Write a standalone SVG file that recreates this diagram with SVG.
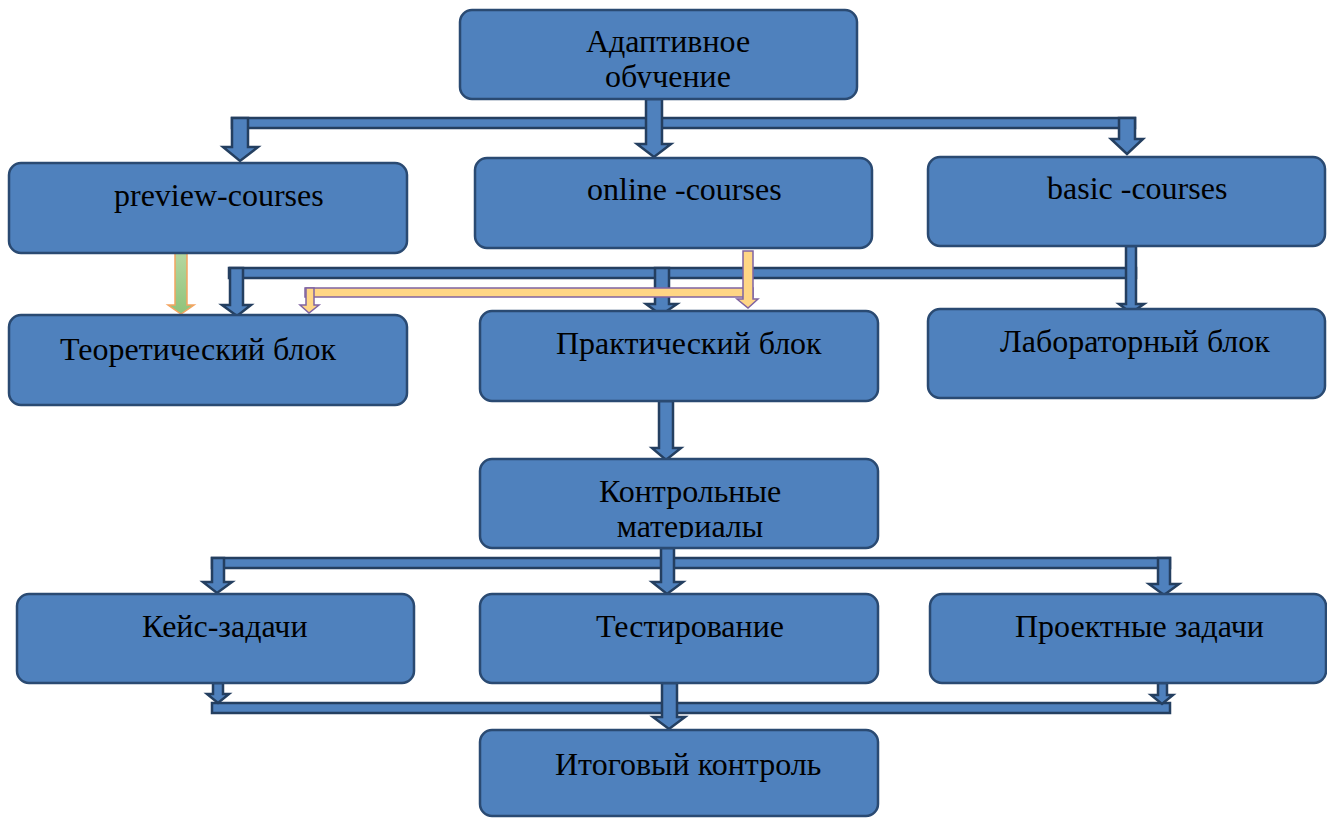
<svg xmlns="http://www.w3.org/2000/svg" width="1327" height="818" viewBox="0 0 1327 818">
<style>
.box{fill:#4F81BD;stroke:#2A4A72;stroke-width:2.5}
.t{font-family:"Liberation Serif","Times New Roman",serif;font-size:32px;fill:#000}
.c{fill:#4F81BD;stroke:#243F60;stroke-width:2.5;stroke-linejoin:miter}
.y{fill:#FFD685;stroke:#8064A2;stroke-width:1.5}
.g{fill:url(#gr);stroke:#F4A460;stroke-width:1.5}
</style>
<defs>
<linearGradient id="gr" x1="0" y1="0" x2="0" y2="1">
<stop offset="0" stop-color="#B5D7A0"/>
<stop offset="1" stop-color="#8FC37A"/>
</linearGradient>
<clipPath id="cl1"><rect x="460" y="10" width="397" height="78"/></clipPath>
<clipPath id="cl2"><rect x="480" y="459" width="398" height="79"/></clipPath>
</defs>
<rect width="1327" height="818" fill="#fff"/>

<g id="connectors">
<rect class="c" x="232" y="118" width="903" height="10"/>
<path class="c" d="M232 118H248V147H258L240 161L223 147H232Z"/>
<path class="c" d="M646 99H662V144H671L654 157L637 144H646Z"/>
<path class="c" d="M1119 118H1135V139H1143L1127 154L1111 139H1119Z"/>

<rect class="c" x="229" y="268" width="907" height="10"/>
<path class="c" d="M1126 246H1136V304H1144L1131 313L1119 304H1126Z"/>
<path class="c" d="M230 268H243V305H251L237 316L222 305H230Z"/>
<path class="c" d="M655 268H669V304H677L661 315L646 304H655Z"/>

<path class="g" d="M175 253H187V305H194L181 314L168 305H175Z"/>
<rect class="y" x="305" y="288" width="448" height="9"/>
<path class="y" d="M306 288H314V305H319L309 313L300 305H306Z"/>
<path class="y" d="M743 251H753V299H758L748 308L737 299H743Z"/>

<path class="c" d="M659 401H673V448H681L666 460L652 448H659Z"/>

<rect class="c" x="212" y="558" width="958" height="10"/>
<path class="c" d="M212 558H224V582H232L217 593L203 582H212Z"/>
<path class="c" d="M661 548H674V582H683L667 594L652 582H661Z"/>
<path class="c" d="M1158 558H1170V584H1179L1164 595L1149 584H1158Z"/>

<rect class="c" x="212" y="703" width="958" height="10"/>
<path class="c" d="M213 683H223V694H229L218 703L207 694H213Z"/>
<path class="c" d="M1158 683H1167V695H1173L1162 704L1151 695H1158Z"/>
<path class="c" d="M662 683H677V717H685L669 729L653 717H662Z"/>
</g>

<g id="n1"><rect class="box" x="460" y="10" width="397" height="89" rx="12"/>
<g clip-path="url(#cl1)"><text class="t" x="668" y="52" text-anchor="middle">Адаптивное</text><text class="t" x="668" y="87" text-anchor="middle">обучение</text></g></g>
<g id="n2"><rect class="box" x="9" y="163" width="398" height="90" rx="12"/><text class="t" x="114" y="206">preview-courses</text></g>
<g id="n3"><rect class="box" x="475" y="158" width="397" height="90" rx="12"/><text class="t" x="587" y="200">online -courses</text></g>
<g id="n4"><rect class="box" x="928" y="157" width="397" height="89" rx="12"/><text class="t" x="1047" y="199">basic -courses</text></g>
<g id="n5"><rect class="box" x="9" y="315" width="398" height="90" rx="12"/><text class="t" x="60" y="360">Теоретический блок</text></g>
<g id="n6"><rect class="box" x="480" y="311" width="398" height="90" rx="12"/><text class="t" x="556" y="354">Практический блок</text></g>
<g id="n7"><rect class="box" x="928" y="309" width="397" height="89" rx="12"/><text class="t" x="1000" y="352">Лабораторный блок</text></g>
<g id="n8"><rect class="box" x="480" y="459" width="398" height="89" rx="12"/>
<g clip-path="url(#cl2)"><text class="t" x="690" y="502" text-anchor="middle">Контрольные</text><text class="t" x="690" y="537" text-anchor="middle">материалы</text></g></g>
<g id="n9"><rect class="box" x="17" y="594" width="397" height="89" rx="12"/><text class="t" x="142" y="637">Кейс-задачи</text></g>
<g id="n10"><rect class="box" x="480" y="594" width="398" height="89" rx="12"/><text class="t" x="596" y="637">Тестирование</text></g>
<g id="n11"><rect class="box" x="930" y="594" width="396" height="89" rx="12"/><text class="t" x="1015" y="637">Проектные задачи</text></g>
<g id="n12"><rect class="box" x="480" y="730" width="398" height="86" rx="12"/><text class="t" x="555" y="775">Итоговый контроль</text></g>
</svg>
